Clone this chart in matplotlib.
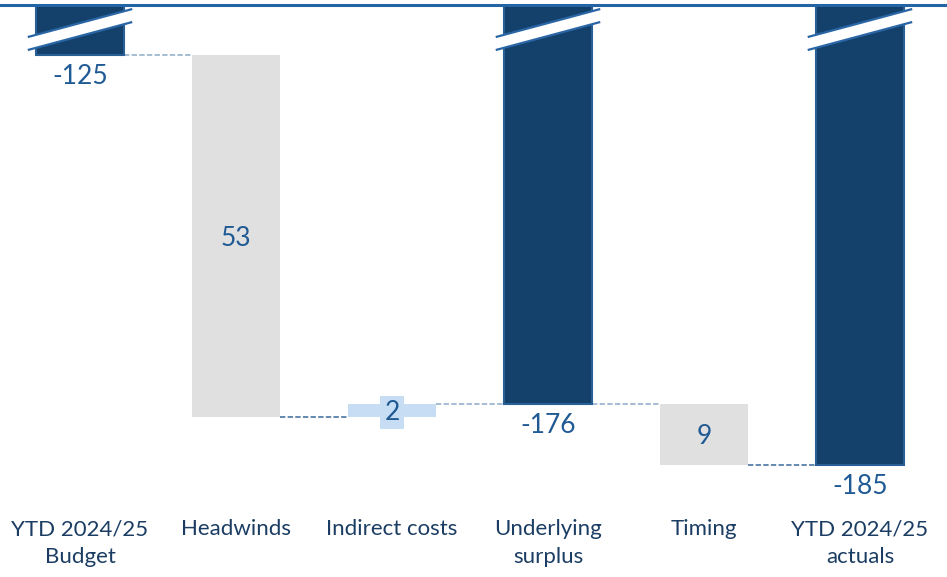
import matplotlib
matplotlib.use("Agg")
import matplotlib.pyplot as plt
from matplotlib.patches import Polygon

# Waterfall: YTD 2024/25 budget bridge to actuals
categories = ["YTD 2024/25\nBudget", "Headwinds", "Indirect costs",
              "Underlying\nsurplus", "Timing", "YTD 2024/25\nactuals"]
values = [-125, -53, 2, -176, -9, -185]
kinds = ["total", "delta", "delta", "total", "delta", "total"]

NAVY = "#14416b"
NAVY_EDGE = "#2a5f96"
GREY = "#e0e0e0"
LIGHT_BLUE = "#c6ddf3"
TEXT_BLUE = "#1f5a94"
LABEL_NAVY = "#1b3d63"
BREAK_BLUE = "#2a66a6"

plt.rcParams["font.family"] = ["Lato", "DejaVu Sans"]

fig = plt.figure(figsize=(9.47, 5.77), dpi=100)
ax = fig.add_axes([0, 1 - 500 / 577, 1, 495 / 577])

y_top, y_bottom = -117.68, -190.12
ax.set_xlim(-0.513, 5.558)
ax.set_ylim(y_bottom, y_top)

width = 0.56
level = 0
tops = []
for i, (v, k) in enumerate(zip(values, kinds)):
    if k == "total":
        ax.bar(i, v, bottom=0, width=width, color=NAVY,
               edgecolor=NAVY_EDGE, linewidth=1.5, zorder=2)
        level = v
        ax.annotate(f"-{abs(v)}", (i, v), xytext=(0, -6.5), textcoords="offset points",
                    ha="center", va="top", fontsize=19, color=TEXT_BLUE)
    else:
        start, end = level, level + v
        color = GREY if v < 0 else LIGHT_BLUE
        ax.bar(i, end - start, bottom=start, width=width, color=color,
               linewidth=0, zorder=2)
        mid = (start + end) / 2
        bbox = None
        if abs(v) < 4:
            bbox = dict(boxstyle="square,pad=0.15", facecolor=color, edgecolor="none")
        ax.text(i, mid, f"{abs(v)}", ha="center", va="center_baseline",
                fontsize=19, color=TEXT_BLUE, bbox=bbox, zorder=3)
        level = end
    tops.append((i, level))

# dashed connectors between consecutive bars
conn_colors = ["#8eabc8", "#3a689a", "#8eabc8", "#8eabc8", "#3a689a"]
for (i, lv), c in zip(tops[:-1], conn_colors):
    ax.plot([i + width / 2, i + 1 - width / 2], [lv, lv], color=c,
            linewidth=1.1, linestyle=(0, (3.5, 1.5)), zorder=1)

# axis-break marks on the truncated total bars
for i, k in enumerate(kinds):
    if k != "total":
        continue
    x0, x1 = i - 0.335, i + 0.335
    upper = [(x0, -122.37), (x1, -118.27)]
    lower = [(x0, -124.27), (x1, -120.17)]
    ax.add_patch(Polygon(upper + lower[::-1], closed=True, facecolor="white",
                         edgecolor="none", zorder=4))
    for seg in (upper, lower):
        ax.plot(*zip(*seg), color=BREAK_BLUE, linewidth=1.6,
                solid_capstyle="butt", zorder=5)

ax.axhline(y_top, color="#2264a4", linewidth=2.2, zorder=6, clip_on=False)

ax.set_xticks(range(len(categories)))
ax.set_xticklabels(categories, fontsize=16, color=LABEL_NAVY, linespacing=1.5)
ax.tick_params(axis="x", length=0, pad=14)
ax.set_yticks([])
for s in ax.spines.values():
    s.set_visible(False)

fig.savefig("out.png", dpi=100)
